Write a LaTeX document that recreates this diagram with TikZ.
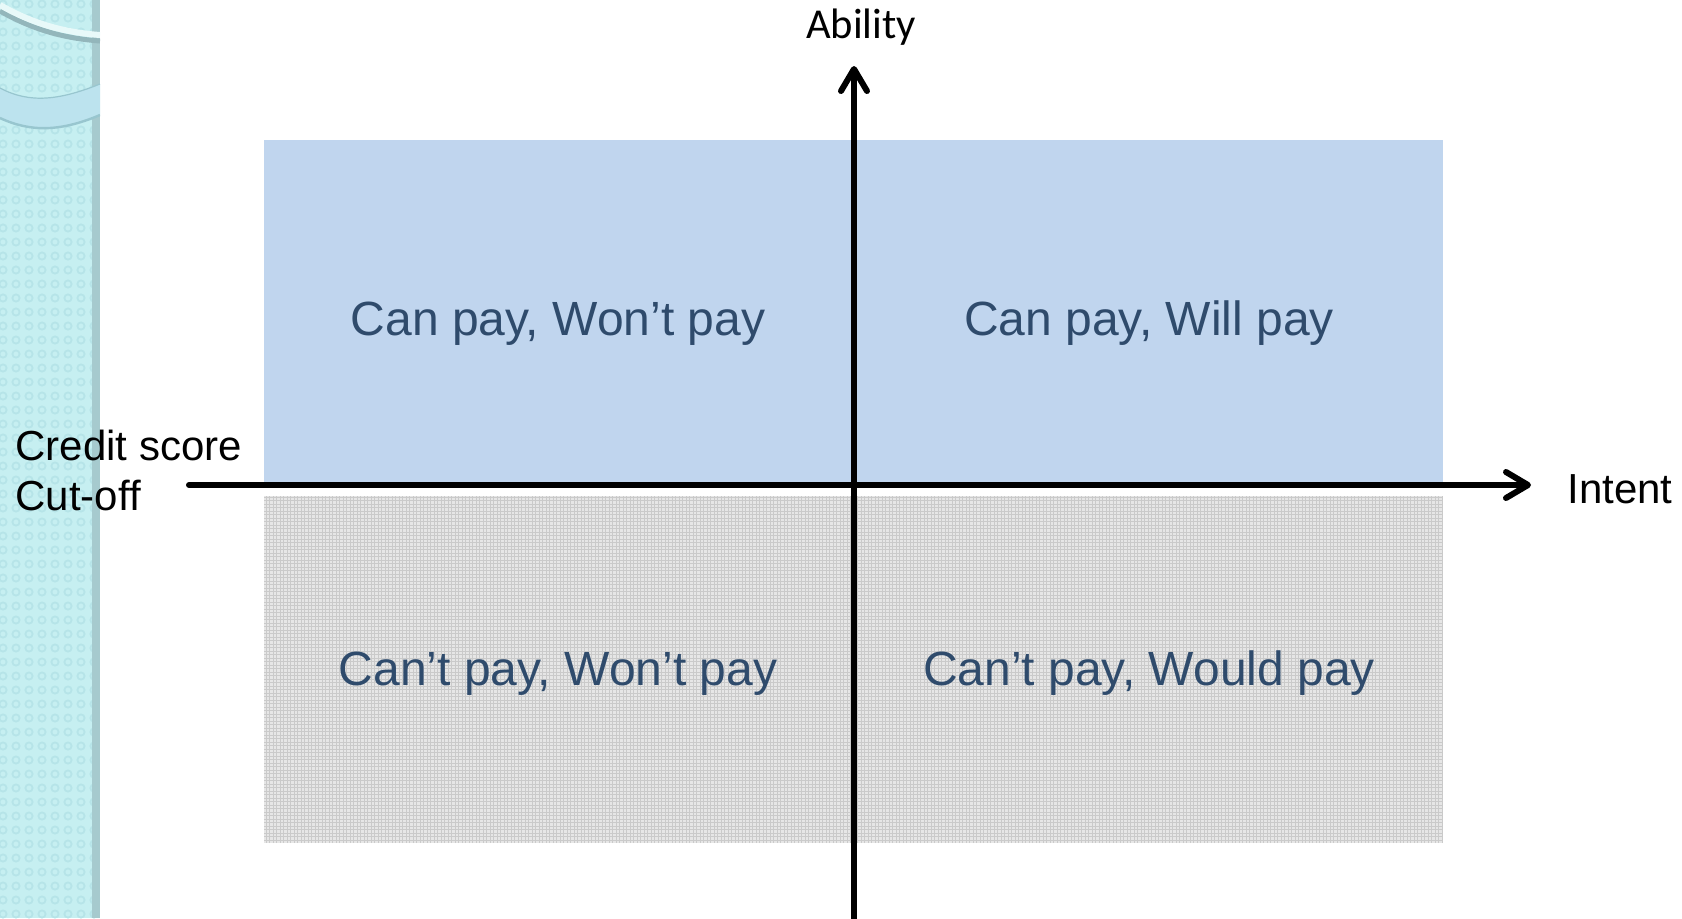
\documentclass[tikz,border=0pt]{standalone}
\usepackage{fontspec}
\setmainfont{Liberation Sans}
\newfontfamily\calib{Carlito}
\usetikzlibrary{arrows.meta}
\definecolor{stripbase}{HTML}{C6EFF1}
\definecolor{stripdot}{HTML}{B6E4E8}
\definecolor{stripedge}{HTML}{A6CACE}
\definecolor{bandfill}{HTML}{BCE3EE}
\definecolor{bandline}{HTML}{98C6CF}
\definecolor{arcgray}{HTML}{93B6BB}
\definecolor{quadblue}{HTML}{C0D5EE}
\definecolor{quadgray}{HTML}{E6E6E6}
\definecolor{gridgray}{HTML}{CACACA}
\definecolor{quadtext}{HTML}{2F4B6C}
\tikzset{
  axisline/.style={line width=3pt, line cap=round,
    -{Straight Barb[length=11pt,width=13pt,line cap=round,line join=round]}},
  quadlabel/.style={text=quadtext, font=\fontsize{24pt}{28pt}\selectfont,
    inner sep=0pt, anchor=base},
  axislabel/.style={text=black, font=\fontsize{21pt}{25pt}\selectfont,
    inner sep=0pt},
}
\begin{document}
\begin{tikzpicture}[x=0.5pt, y=-0.5pt]
\useasboundingbox (0,0) rectangle (1682,918);
\fill[white] (0,0) rectangle (1682,918);

% decorative side strip
\begin{scope}
  \clip (0,0) rectangle (100,918);
  \fill[stripbase] (0,0) rectangle (92,918);
  \foreach \r in {0,...,66} {
    \foreach \c in {0,...,7} {
      \draw[stripdot, line width=0.9pt] (\c*13+3, \r*14+4) circle[radius=3.6];
    }
  }
  \fill[stripedge] (92,0) rectangle (100,918);
  % lower curved band
  \fill[bandfill] (0,88) .. controls (30,104) and (60,100) .. (100,84)
     -- (100,115) .. controls (60,132) and (30,132) .. (0,118) -- cycle;
  \draw[bandline, line width=0.6pt] (0,88) .. controls (30,104) and (60,100) .. (100,84);
  \draw[bandline, line width=1.2pt] (0,118) .. controls (30,132) and (60,132) .. (100,115);
  % upper arc
  \draw[arcgray, line width=2.5pt] (0,11) .. controls (30,28) and (60,38) .. (100,41);
  \draw[white!60!stripbase, line width=3pt] (0,5) .. controls (30,22) and (60,32) .. (100,35);
\end{scope}

% quadrant backgrounds
\fill[quadblue] (264,140) rectangle (1443,484);
\fill[quadgray] (264,496) rectangle (1443,843);
\draw[gridgray, line width=0.35pt, xstep=1.75pt, ystep=1.75pt] (264,496) grid (1443,843);

% quadrant labels
\node[quadlabel] (canwont) at (558,335) {Can pay, Won’t pay};
\node[quadlabel] (canwill) at (1149,335) {Can pay, Will pay};
\node[quadlabel] (cantwont) at (558,685) {Can’t pay, Won’t pay};
\node[quadlabel] (cantwould) at (1149,685) {Can’t pay, Would pay};

% axes
\coordinate (xstart) at (189,485);
\coordinate (xend) at (1531,485);
\coordinate (ystart) at (854,925);
\coordinate (yend) at (854,66);
\draw[axisline] (xstart) -- (xend);
\draw[axisline] (ystart) -- (yend);

% axis labels
\node[axislabel, anchor=base, font=\calib\fontsize{21.3pt}{25pt}\selectfont] (ability) at (861,38) {Ability};
\node[axislabel, anchor=base west] (intent) at (1567,503) {Intent};
\node[axislabel, anchor=base west] (credit) at (15,460) {Credit score};
\node[axislabel, anchor=base west] (cutoff) at (15,510) {Cut-off};
\end{tikzpicture}
\end{document}
